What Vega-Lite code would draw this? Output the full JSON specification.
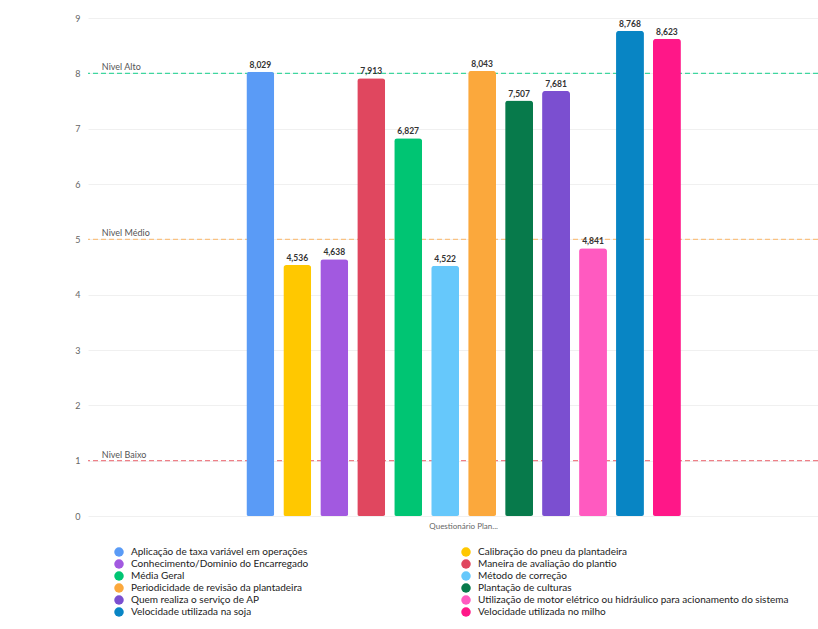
{
  "$schema": "https://vega.github.io/schema/vega-lite/v6.json",
  "width": 730,
  "height": 498,
  "autosize": "none",
  "padding": {"left": 88, "top": 18, "right": 0, "bottom": 113},
  "background": "white",
  "config": {
    "font": "Lato",
    "view": {"stroke": null},
    "locale": {"number": {"decimal": ",", "thousands": ".", "grouping": [3], "currency": ["", ""]}}
  },
  "datasets": {
    "bars": [
      {"cat": "Questionário Plan...", "serie": "Aplicação de taxa variável em operações", "valor": 8.029},
      {"cat": "Questionário Plan...", "serie": "Calibração do pneu da plantadeira", "valor": 4.536},
      {"cat": "Questionário Plan...", "serie": "Conhecimento/Dominio do Encarregado", "valor": 4.638},
      {"cat": "Questionário Plan...", "serie": "Maneira de avaliação do plantio", "valor": 7.913},
      {"cat": "Questionário Plan...", "serie": "Média Geral", "valor": 6.827},
      {"cat": "Questionário Plan...", "serie": "Método de correção", "valor": 4.522},
      {"cat": "Questionário Plan...", "serie": "Periodicidade de revisão da plantadeira", "valor": 8.043},
      {"cat": "Questionário Plan...", "serie": "Plantação de culturas", "valor": 7.507},
      {"cat": "Questionário Plan...", "serie": "Quem realiza o serviço de AP", "valor": 7.681},
      {"cat": "Questionário Plan...", "serie": "Utilização de motor elétrico ou hidráulico para acionamento do sistema", "valor": 4.841},
      {"cat": "Questionário Plan...", "serie": "Velocidade utilizada na soja", "valor": 8.768},
      {"cat": "Questionário Plan...", "serie": "Velocidade utilizada no milho", "valor": 8.623}
    ],
    "niveis": [
      {"nivel": "Nivel Alto", "y": 8, "pos": 0.019},
      {"nivel": "Nivel Médio", "y": 5, "pos": 0.019},
      {"nivel": "Nivel Baixo", "y": 1, "pos": 0.019}
    ]
  },
  "layer": [
    {
      "data": {"name": "bars"},
      "encoding": {
        "x": {
          "field": "cat", "type": "nominal",
          "scale": {"paddingInner": 0, "paddingOuter": 0.34, "align": 0.536},
          "axis": {"title": null, "domain": false, "ticks": false, "labelAngle": 0, "labelFontSize": 8, "labelColor": "#666666", "labelPadding": 6, "labelFont": "Lato"}
        },
        "xOffset": {
          "field": "serie", "type": "nominal",
          "scale": {"paddingInner": 0.245, "paddingOuter": 0}
        },
        "y": {
          "field": "valor", "type": "quantitative",
          "scale": {"domain": [0, 9], "nice": false},
          "axis": {"title": null, "values": [0,1,2,3,4,5,6,7,8,9], "format": "d", "domain": false, "ticks": false, "labelPadding": 8, "labelFontSize": 9, "labelColor": "#666666", "gridColor": "#f0f0f0", "gridWidth": 1}
        }
      },
      "layer": [
        {
          "mark": {"type": "bar", "opacity": 0},
          "encoding": {}
        }
      ]
    },
    {
      "data": {"name": "niveis"},
      "mark": {"type": "rule", "strokeDash": [5, 3], "strokeWidth": 1.4},
      "encoding": {
        "y": {"field": "y", "type": "quantitative"},
        "color": {
          "field": "nivel", "type": "nominal", "legend": null,
          "scale": {"domain": ["Nivel Alto", "Nivel Médio", "Nivel Baixo"], "range": ["#3fd69f", "#f9c283", "#ee8088"]}
        }
      }
    },
    {
      "data": {"name": "niveis"},
      "mark": {"type": "text", "align": "left", "baseline": "bottom", "dy": -1, "fontSize": 9, "color": "#555555"},
      "encoding": {
        "x": {"field": "pos", "type": "quantitative", "scale": {"domain": [0, 1]}, "axis": null},
        "y": {"field": "y", "type": "quantitative"},
        "text": {"field": "nivel", "type": "nominal"}
      }
    },
    {
      "data": {"name": "bars"},
      "encoding": {
        "x": {
          "field": "cat", "type": "nominal",
          "scale": {"paddingInner": 0, "paddingOuter": 0.34, "align": 0.536},
          "axis": null
        },
        "xOffset": {
          "field": "serie", "type": "nominal",
          "scale": {"paddingInner": 0.245, "paddingOuter": 0}
        },
        "y": {"field": "valor", "type": "quantitative"}
      },
      "layer": [
        {
          "mark": {"type": "bar", "cornerRadiusTopLeft": 3, "cornerRadiusTopRight": 3, "cornerRadiusBottomLeft": 2, "cornerRadiusBottomRight": 2},
          "encoding": {
            "color": {
              "field": "serie", "type": "nominal",
              "scale": {"range": ["#5a9bf6", "#ffc800", "#a259e0", "#e0475f", "#00c573", "#66c8fb", "#fba83c", "#077a4b", "#7b4fd0", "#ff5ac0", "#0885c4", "#ff1788"]},
              "legend": {
                "title": null, "orient": "none", "legendX": 26, "legendY": 529,
                "direction": "horizontal", "columns": 2, "columnPadding": 152, "gridAlign": "each",
                "symbolType": "circle", "symbolSize": 90, "symbolStrokeWidth": 0,
                "labelFontSize": 10, "labelColor": "#222222", "labelLimit": 500,
                "rowPadding": 2, "labelOffset": 7
              }
            }
          }
        },
        {
          "mark": {"type": "text", "dy": -7, "fontSize": 8.5, "fontWeight": "bold", "color": "#333333"},
          "encoding": {
            "text": {"field": "valor", "type": "quantitative", "format": ",.3f"}
          }
        }
      ]
    }
  ],
  "resolve": {"scale": {"x": "independent", "color": "independent"}}
}
